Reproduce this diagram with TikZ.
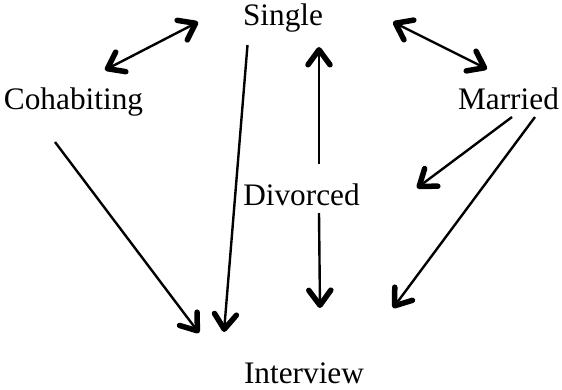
\documentclass[tikz,border=0pt]{standalone}
\usepackage{fontspec}
\setmainfont{Liberation Serif}
\usetikzlibrary{arrows.meta}
\tikzset{
  tip/.tip={Straight Barb[length=15pt,width=22pt,line width=5.5pt,round]},
  lbl/.style={anchor=base, inner sep=0pt, font=\fontsize{31.3}{36}\selectfont},
  arr/.style={line width=2.4pt, -tip},
  darr/.style={line width=2.4pt, tip-tip}
}
\begin{document}
\begin{tikzpicture}[x=1pt,y=-1pt]
\useasboundingbox (0,0) rectangle (562,389);
\node[lbl] (sin) at (283,25) {Single};
\node[lbl] (coh) at (73.5,109.5) {Cohabiting};
\node[lbl] (mar) at (508.5,109.5) {Married};
\node[lbl] (div) at (301.5,205) {Divorced};
\node[lbl] (int) at (304,383) {Interview};
% double arrows
\draw[darr] ([shift={(31.5,-39.5)}]coh.base) -- ([shift={(-85,-3)}]sin.base);
\draw[darr] ([shift={(110,-3)}]sin.base) -- ([shift={(-21.5,-40.5)}]mar.base);
% to interview
\draw[arr] ([shift={(-18.5,32.5)}]coh.base) -- ([shift={(-105,-50)}]int.base);
\draw[arr] ([shift={(-35.5,20)}]sin.base) -- ([shift={(-80,-51)}]int.base);
\draw[arr] ([shift={(17.5,8)}]div.base) -- ([shift={(16,-75)}]int.base);
\draw[arr] ([shift={(26.5,7.5)}]mar.base) -- ([shift={(89,-75)}]int.base);
% divorced to single
\draw[arr] ([shift={(17.5,-41)}]div.base) -- ([shift={(36,22)}]sin.base);
% married to divorced
\draw[arr] ([shift={(3.5,7.5)}]mar.base) -- ([shift={(115.5,-17)}]div.base);
\end{tikzpicture}
\end{document}
